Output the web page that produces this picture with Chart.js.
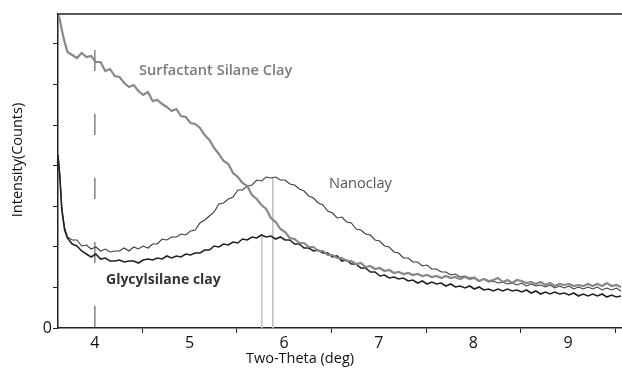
<!DOCTYPE html>
<html>
<head>
<meta charset="utf-8">
<script src="https://cdn.jsdelivr.net/npm/chart.js@4.4.1/dist/chart.umd.min.js"></script>
<style>
  html, body { margin: 0; padding: 0; background: #fff; }
</style>
</head>
<body>
<canvas id="xrd" width="622" height="369"></canvas>
<script>
// two-theta (deg), shared by the three scans
const twoTheta = [
  3.61, 3.63, 3.65, 3.68, 3.71, 3.76, 3.81, 3.86, 3.91, 3.96,
  4.01, 4.06, 4.11, 4.16, 4.21, 4.26, 4.31, 4.36, 4.41, 4.46,
  4.51, 4.56, 4.61, 4.66, 4.71, 4.76, 4.81, 4.86, 4.91, 4.96,
  5.01, 5.06, 5.11, 5.16, 5.21, 5.26, 5.31, 5.36, 5.41, 5.46,
  5.51, 5.56, 5.61, 5.66, 5.71, 5.76, 5.81, 5.86, 5.91, 5.96,
  6.01, 6.06, 6.11, 6.16, 6.21, 6.26, 6.31, 6.36, 6.41, 6.46,
  6.51, 6.56, 6.61, 6.66, 6.71, 6.76, 6.81, 6.86, 6.91, 6.96,
  7.01, 7.06, 7.11, 7.16, 7.21, 7.26, 7.31, 7.36, 7.41, 7.46,
  7.51, 7.56, 7.61, 7.66, 7.71, 7.76, 7.81, 7.86, 7.91, 7.96,
  8.01, 8.06, 8.11, 8.16, 8.21, 8.26, 8.31, 8.36, 8.41, 8.46,
  8.51, 8.56, 8.61, 8.66, 8.71, 8.76, 8.81, 8.86, 8.91, 8.96,
  9.01, 9.06, 9.11, 9.16, 9.21, 9.26, 9.31, 9.36, 9.41, 9.46,
  9.51, 9.56
]

const surfactantSilane = [
  314, 308, 298, 286, 276, 273, 270, 275, 271, 272,
  266, 266, 257, 259, 252, 251, 245, 241, 243, 237,
  233, 236, 227, 228, 224, 221, 217, 219, 212, 211,
  205, 204, 200, 193, 188, 180, 174, 167, 164, 155,
  151, 145, 142, 133, 129, 123, 119, 110, 106, 99,
  96, 90, 89, 85, 85, 81, 81, 77, 77, 73,
  73, 70, 70, 67, 67, 64, 65, 61, 62, 59,
  60, 57, 58, 55, 56, 54, 55, 53, 54, 52,
  53, 51, 52, 50, 52, 50, 51, 49, 51, 49,
  50, 47, 49, 47, 48, 50, 46, 48, 45, 48,
  47, 45, 46, 44, 46, 43, 45, 42, 44, 43,
  44, 42, 43, 42, 44, 42, 44, 42, 45, 42,
  43, 41
]

const nanoclay = [
  173, 153, 121, 100, 91, 88, 88, 82, 83, 79,
  81, 77, 79, 76, 77, 77, 80, 77, 81, 79,
  82, 80, 84, 84, 89, 88, 91, 91, 94, 93,
  97, 98, 105, 108, 112, 116, 124, 125, 129, 131,
  138, 138, 142, 143, 148, 147, 151, 150, 151, 148,
  148, 144, 143, 139, 137, 132, 130, 125, 123, 117,
  115, 110, 111, 106, 105, 99, 98, 94, 93, 88,
  87, 82, 81, 76, 75, 70, 70, 66, 66, 62,
  63, 59, 59, 56, 56, 53, 54, 51, 52, 50,
  51, 47, 49, 46, 47, 45, 46, 44, 45, 43,
  45, 42, 44, 42, 43, 41, 43, 40, 42, 40,
  42, 39, 41, 39, 41, 39, 41, 38, 40, 38,
  40, 37
]

const glycylsilane = [
  173, 150, 118, 98, 90, 84, 82, 77, 74, 71,
  74, 69, 70, 67, 67, 68, 66, 67, 67, 65,
  68, 69, 68, 70, 69, 72, 70, 72, 71, 74,
  73, 75, 75, 78, 78, 82, 81, 84, 83, 86,
  85, 89, 88, 91, 90, 93, 91, 92, 89, 91,
  88, 88, 84, 84, 80, 80, 77, 78, 75, 75,
  71, 72, 67, 68, 64, 64, 60, 60, 56, 56,
  52, 53, 50, 51, 49, 50, 47, 48, 45, 47,
  44, 46, 44, 45, 42, 44, 41, 42, 40, 42,
  39, 41, 38, 39, 37, 39, 37, 39, 37, 38,
  36, 38, 35, 37, 34, 36, 34, 36, 34, 35,
  33, 35, 32, 34, 32, 34, 32, 34, 31, 33,
  31, 32
]

// peak markers and the dashed guide at 4 deg
const peakX = [5.763, 5.88]
const peakTop = [93, 151]
const guideX = 4
const guideTop = 278

const xTicks = [4, 4.5, 5, 5.5, 6, 6.5, 7, 7.5, 8, 8.5, 9, 9.5]
const yStep = 40.6

const pts = ys => ys.map((y, i) => ({ x: twoTheta[i], y }))
const vline = (x, top) => [{ x, y: top }, { x, y: 0 }]

const FONT = "'Open Sans', sans-serif"

const annotations = {
  id: 'annotations',
  afterDraw(chart) {
    const { ctx, chartArea } = chart
    ctx.save()
    // top frame line
    ctx.strokeStyle = '#222'
    ctx.lineWidth = 1.5
    ctx.beginPath()
    ctx.moveTo(chartArea.left, chartArea.top)
    ctx.lineTo(chartArea.right, chartArea.top)
    ctx.stroke()

    ctx.textBaseline = 'middle'
    ctx.textAlign = 'left'
    ctx.font = '600 14.6px ' + FONT
    ctx.fillStyle = '#7a7a7a'
    ctx.fillText('Surfactant Silane Clay', 139, 71)
    ctx.font = '14.6px ' + FONT
    ctx.fillStyle = '#555'
    ctx.fillText('Nanoclay', 329, 184)
    ctx.font = 'bold 14px ' + FONT
    ctx.fillStyle = '#333'
    ctx.fillText('Glycylsilane clay', 106, 280)

    // axis titles
    ctx.fillStyle = '#111'
    ctx.font = '14.5px ' + FONT
    ctx.textAlign = 'center'
    ctx.fillText('Two-Theta (deg)', 300, 359)
    ctx.translate(18, 160)
    ctx.rotate(-Math.PI / 2)
    ctx.fillText('Intensity(Counts)', 0, 0)
    ctx.restore()
  }
}

new Chart(document.getElementById('xrd'), {
  type: 'line',
  data: {
    datasets: [
      { label: 'Surfactant Silane Clay', data: pts(surfactantSilane), borderColor: '#888', borderWidth: 2.2 },
      { label: 'Glycylsilane clay', data: pts(glycylsilane), borderColor: '#222', borderWidth: 1.6 },
      { label: 'Nanoclay', data: pts(nanoclay), borderColor: '#3c3c3c', borderWidth: 1.1 },
      { label: 'guide', data: vline(guideX, guideTop), borderColor: '#444', borderWidth: 1, borderDash: [21, 43] },
      { label: 'peak1', data: vline(peakX[0], peakTop[0]), borderColor: '#c4c4c4', borderWidth: 1 },
      { label: 'peak2', data: vline(peakX[1], peakTop[1]), borderColor: '#c4c4c4', borderWidth: 1 },
    ],
  },
  options: {
    responsive: false,
    animation: false,
    events: [],
    layout: { padding: { top: 14, right: 0, bottom: 0, left: 0 } },
    elements: { point: { radius: 0 }, line: { tension: 0, fill: false } },
    plugins: { legend: { display: false }, tooltip: { enabled: false } },
    scales: {
      x: {
        type: 'linear',
        min: 3.61,
        max: 9.57,
        afterBuildTicks: s => { s.ticks = xTicks.map(v => ({ value: v })) },
        afterFit: s => { s.height = 41 },
        ticks: {
          autoSkip: false,
          maxRotation: 0,
          padding: 1,
          color: '#111',
          font: { family: FONT, size: 16 },
          callback: v => (Number.isInteger(v) ? String(v) : ''),
        },
        grid: {
          drawOnChartArea: false,
          tickLength: 5,
          tickColor: ctx => (Number.isInteger(ctx.tick.value) ? 'rgba(0,0,0,0)' : '#222'),
        },
        border: { color: '#222', width: 1.5 },
      },
      y: {
        min: 0,
        max: 314,
        afterBuildTicks: s => { s.ticks = s.ticks.filter(t => t.value < 300) },
        afterFit: s => { s.width = 58 },
        ticks: {
          stepSize: yStep,
          padding: 1,
          color: '#111',
          font: { family: FONT, size: 16 },
          callback: v => (v === 0 ? '0' : ''),
        },
        grid: { drawOnChartArea: false, tickLength: 5, tickColor: '#222' },
        border: { color: '#222', width: 1.5 },
      },
    },
  },
  plugins: [annotations],
})
</script>
</body>
</html>
